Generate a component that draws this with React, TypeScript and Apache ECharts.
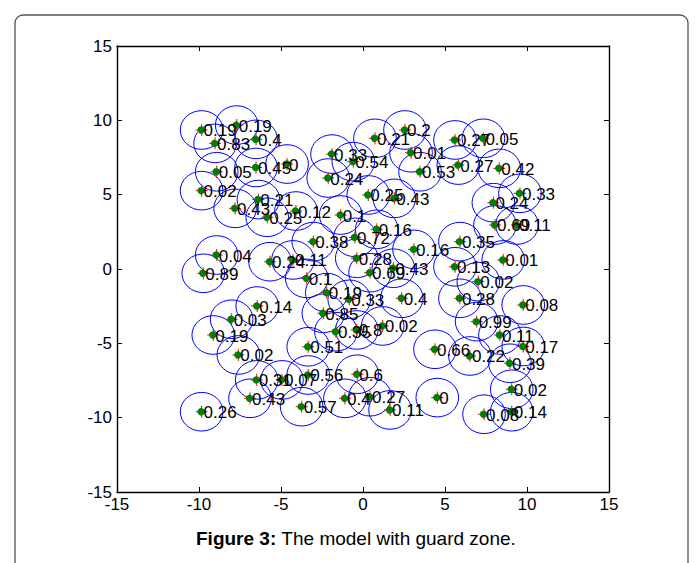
import React, { useEffect, useRef } from "react";
import * as echarts from "echarts";

// node positions (x, y) and the value printed beside each node
const nodeX = [
  -9.84, -7.70, -9.02, -6.52, -8.92, -6.52, -4.63, -9.84, -6.38, -7.80,
  -5.84, -4.09, -1.36, -1.89, -2.12, -0.59, 0.73, 2.56, 2.93, 3.48,
  5.61, 7.34, 5.81, 8.31, 0.32, 1.91, 9.57, 7.95, 8.05, 9.39,
  0.84, -0.49, -3.03, 3.11, 5.91, 8.55, -0.38, 0.43, 1.85, 5.61,
  7.03, 5.91, -0.84, -2.21, 2.36, 9.77, 6.93, 1.20, 8.35, 9.77,
  -8.92, -9.74, -5.67, -4.27, -3.43, -6.45, -8.01, -9.13, -2.42, -1.65,
  -0.38, -7.60, -6.48, -4.94, -6.89, -9.84, -3.34, -3.74, -3.34, -1.10,
  0.43, -0.35, 1.65, 4.53, 4.39, 6.52, 8.96, 9.07, 7.38, 9.07,
];
const nodeY = [
  9.35, 9.68, 8.45, 8.72, 6.54, 6.83, 7.06, 5.27, 4.67, 4.08,
  3.48, 3.90, 3.63, 7.73, 6.12, 7.22, 8.79, 9.35, 7.82, 6.54,
  8.68, 8.79, 6.99, 6.77, 4.98, 4.75, 5.09, 4.46, 2.96, 2.96,
  2.67, 2.13, 1.84, 1.32, 1.84, 0.61, 0.72, -0.25, 0.05, 0.15,
  -0.85, -1.97, -2.04, -1.59, -1.97, -2.42, -3.54, -3.83, -4.44, -5.21,
  0.94, -0.29, 0.49, 0.61, -0.63, -2.49, -3.38, -4.44, -2.98, -4.22,
  -4.10, -5.78, -7.46, -7.46, -8.70, -9.60, -7.13, -9.26, -5.23, -8.70,
  -8.59, -7.08, -9.48, -8.65, -5.40, -5.85, -6.34, -8.09, -9.77, -9.60,
];
const nodeLabels = [
  "0.19", "0.19", "0.83", "0.4", "0.05", "0.45", "0", "0.02", "0.21", "0.43",
  "0.25", "0.12", "0.1", "0.33", "0.24", "0.54", "0.21", "0.2", "0.01", "0.53",
  "0.27", "0.05", "0.27", "0.42", "0.25", "0.43", "0.33", "0.24", "0.69", "0.11",
  "0.16", "0.72", "0.38", "0.16", "0.35", "0.01", "0.28", "0.69", "0.43", "0.13",
  "0.02", "0.28", "0.33", "0.19", "0.4", "0.08", "0.99", "0.02", "0.11", "0.17",
  "0.04", "0.89", "0.24", "0.11", "0.1", "0.14", "0.03", "0.19", "0.85", "0.35",
  "0.8", "0.02", "0.31", "0.07", "0.43", "0.26", "0.56", "0.57", "0.51", "0.4",
  "0.27", "0.6", "0.11", "0", "0.66", "0.22", "0.39", "0.02", "0.08", "0.14",
];
const guardRadius = 1.3;
const axisMin = -15;
const axisMax = 15;
const axisStep = 5;
const captionBold = "Figure 3:";
const captionText = " The model with guard zone.";

const FONT = "'Liberation Sans', Arial, Helvetica, sans-serif";

export default function App() {
  const ref = useRef<HTMLDivElement>(null);

  useEffect(() => {
    const chart = echarts.init(ref.current!, null, { renderer: "svg" });
    const data = nodeX.map((x, i) => [x, nodeY[i], nodeLabels[i]]);

    const baseAxis = {
      type: "value",
      min: axisMin,
      max: axisMax,
      interval: axisStep,
      splitLine: { show: false },
      axisLine: { show: true, onZero: false, lineStyle: { color: "#000", width: 1.4 } },
      axisTick: { show: true, inside: true, length: 5, lineStyle: { color: "#000", width: 1 } },
    };
    const labelStyle = { color: "#000", fontSize: 17, fontFamily: FONT };

    chart.setOption({
      animation: false,
      grid: { left: 117, top: 46, width: 492, height: 446, containLabel: false },
      xAxis: [
        { ...baseAxis, position: "bottom", axisLabel: { ...labelStyle, margin: 4 } },
        { ...baseAxis, position: "top", axisLabel: { show: false } },
      ],
      yAxis: [
        { ...baseAxis, position: "left", axisLabel: { ...labelStyle, margin: 5 } },
        { ...baseAxis, position: "right", axisLabel: { show: false } },
      ],
      graphic: [
        {
          type: "rect",
          shape: { x: 15, y: 15, width: 673, height: 620, r: 8 },
          style: { fill: "none", stroke: "#555", lineWidth: 1.3 },
          silent: true,
        },
        {
          type: "text",
          x: 356,
          y: 538,
          style: {
            text: "{b|" + captionBold + "}" + captionText,
            rich: {
              b: { fontWeight: "bold", fontSize: 19, fontFamily: FONT, fill: "#000" },
            },
            fontSize: 19,
            fontFamily: FONT,
            fill: "#000",
            align: "center",
            verticalAlign: "middle",
          },
        },
      ],
      series: [
        {
          type: "custom",
          z: 2,
          clip: false,
          data,
          renderItem: (params: any, api: any) => {
            const c = api.coord([api.value(0), api.value(1)]);
            const rx = api.size([guardRadius, 0])[0];
            const ry = api.size([0, guardRadius])[1];
            return {
              type: "ellipse",
              shape: { cx: c[0], cy: c[1], rx, ry },
              style: { fill: "none", stroke: "#0000ff", lineWidth: 1 },
            };
          },
        },
        {
          type: "custom",
          z: 3,
          clip: false,
          data,
          renderItem: (params: any, api: any) => {
            const c = api.coord([api.value(0), api.value(1)]);
            return {
              type: "group",
              children: [
                {
                  type: "line",
                  shape: { x1: c[0] - 6, y1: c[1], x2: c[0] + 6, y2: c[1] },
                  style: { stroke: "#ff0000", lineWidth: 1 },
                },
                {
                  type: "line",
                  shape: { x1: c[0], y1: c[1] - 6, x2: c[0], y2: c[1] + 6 },
                  style: { stroke: "#ff0000", lineWidth: 1 },
                },
                {
                  type: "circle",
                  shape: { cx: c[0] - 0.5, cy: c[1], r: 3.7 },
                  style: { fill: "#007f00", stroke: "none" },
                },
              ],
            };
          },
        },
        {
          type: "custom",
          z: 4,
          clip: false,
          data,
          renderItem: (params: any, api: any) => {
            const c = api.coord([api.value(0), api.value(1)]);
            return {
              type: "text",
              x: c[0] + 2,
              y: c[1] + 1,
              style: {
                text: nodeLabels[params.dataIndex],
                fontSize: 17,
                fontFamily: FONT,
                fill: "#000",
                align: "left",
                verticalAlign: "middle",
              },
            };
          },
        },
      ],
    });
    return () => chart.dispose();
  }, []);

  return (
    <div
      ref={ref}
      style={{ position: "absolute", left: 0, top: 0, width: 699, height: 563, background: "#fff" }}
    />
  );
}
